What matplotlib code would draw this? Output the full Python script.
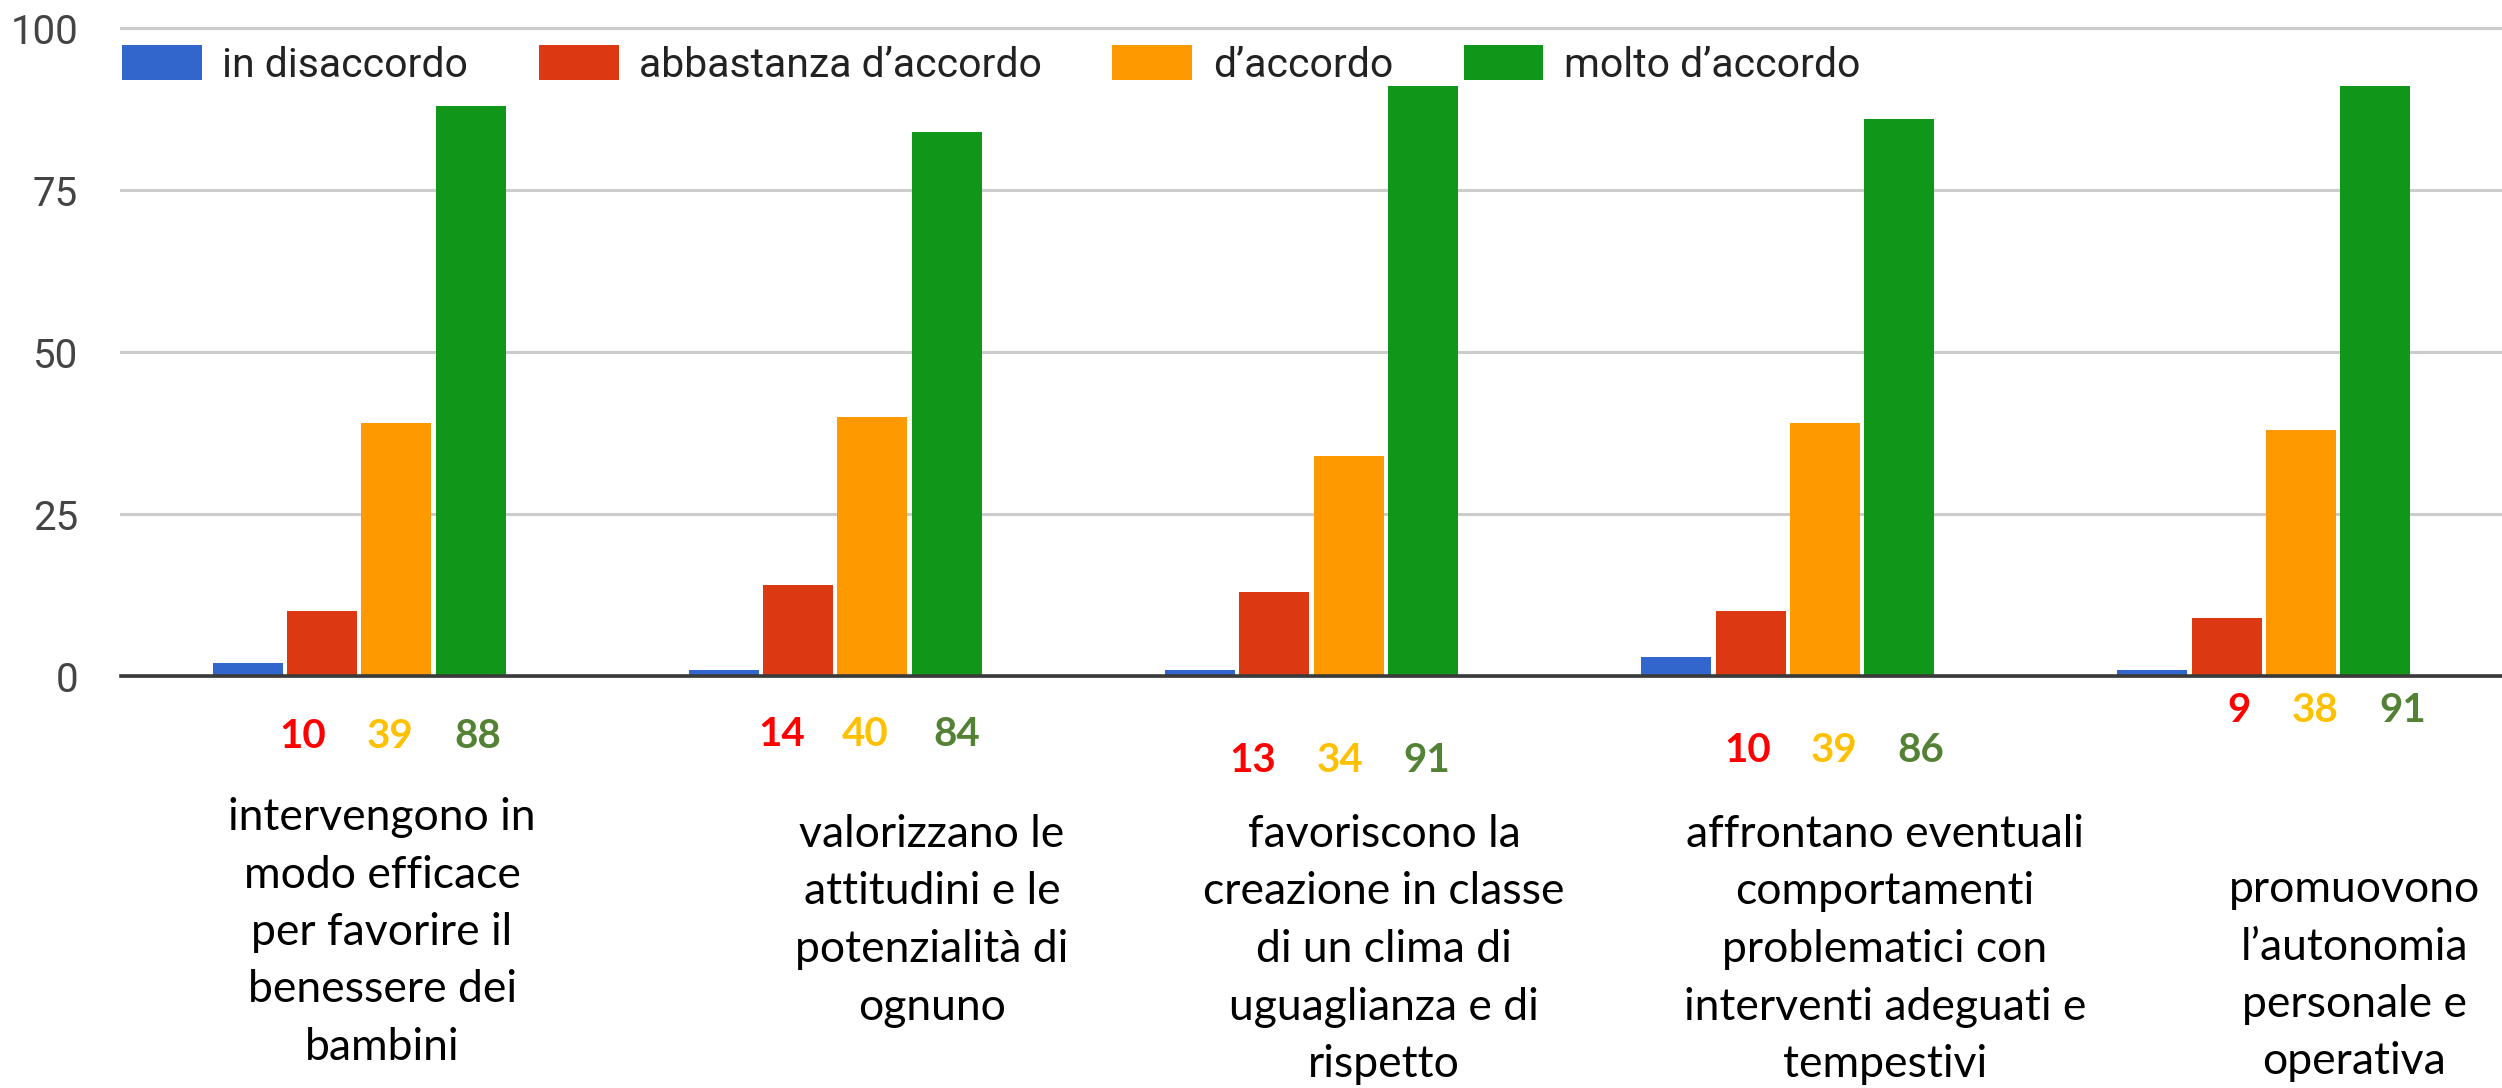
import matplotlib
matplotlib.use("Agg")
import matplotlib.pyplot as plt
import matplotlib.transforms as mtransforms
from matplotlib.patches import Patch

# ---------------- data ----------------
categories = [
    ["intervengono in", "modo efficace", "per favorire il", "benessere dei", "bambini"],
    ["valorizzano le", "attitudini e le", "potenzialità di", "ognuno"],
    ["favoriscono la", "creazione in classe", "di un clima di", "uguaglianza e di", "rispetto"],
    ["affrontano eventuali", "comportamenti", "problematici con", "interventi adeguati e", "tempestivi"],
    ["promuovono", "l’autonomia", "personale e", "operativa"],
]
series_names = ["in disaccordo", "abbastanza d’accordo", "d’accordo", "molto d’accordo"]
in_disaccordo = [2, 1, 1, 3, 1]
abbastanza_accordo = [10, 14, 13, 10, 9]
d_accordo = [39, 40, 34, 39, 38]
molto_accordo = [88, 84, 91, 86, 91]
yticks = [0, 25, 50, 75, 100]

# overlaid value labels (red, yellow, green)
label_abbastanza = ["10", "14", "13", "10", "9"]
label_accordo = ["39", "40", "34", "39", "38"]
label_molto = ["88", "84", "91", "86", "91"]

# ---------------- layout / style ----------------
W, H = 2502, 1088
DPI = 100
bar_colors = ["#3366CC", "#DC3912", "#FF9900", "#109618"]
num_colors = ["#FF0000", "#FFC000", "#548235"]

# value-label layout (pixel offsets from group centre, y pixel)
num_mid_off = [31, 30, 29, 46, 51]
num_left_off = [-87, -84, -88, -86, -76]
num_right_off = [88, 91, 86, 87, 88]
num_y_px = [736, 734, 761, 750, 710]
# category-text layout (pixel centre x, first baseline y)
cat_x_px = [382, 932, 1384, 1885, 2354]
cat_y_px = [830, 847, 847, 847, 902]
line_step_px = 57.5

fig = plt.figure(figsize=(W / DPI, H / DPI), dpi=DPI)
ax_left, ax_right = 121 / W, 1.0
ax_bottom, ax_top = 1 - 676 / H, 1 - 28 / H
ax = fig.add_axes([ax_left, ax_bottom, ax_right - ax_left, ax_top - ax_bottom])

n = len(categories)
x = list(range(n))
series = [in_disaccordo, abbastanza_accordo, d_accordo, molto_accordo]
pitch = 0.156
width = 0.147
for i, (vals, col, name) in enumerate(zip(series, bar_colors, series_names)):
    xs = [xi + (i - 1.5) * pitch for xi in x]
    ax.bar(xs, vals, width=width, color=col, label=name, zorder=3, linewidth=0)

ax.set_xlim(-0.5, n - 0.5)
ax.set_ylim(0, 100)
ax.set_yticks(yticks)
ax.set_yticklabels([str(t) for t in yticks], fontsize=29, color="#444444",
                   family=["Roboto", "DejaVu Sans"])
ax.tick_params(axis="y", length=0, pad=31)
ax.set_xticks([])
for s in ax.spines.values():
    s.set_visible(False)
ax.yaxis.grid(True, color="#CCCCCC", linewidth=2.2, zorder=0)
for gl in ax.get_ygridlines():
    gl.set_clip_on(False)
ax.axhline(0, color="#3A3A3A", linewidth=2.6, zorder=4, clip_on=False)

# legend
handles = [Patch(facecolor=c, edgecolor="none") for c in bar_colors]
leg = fig.legend(handles, series_names, loc="center left",
                 bbox_to_anchor=(122 / W, 1 - 65 / H), ncol=4, frameon=False,
                 prop={"family": ["Roboto", "DejaVu Sans"], "size": 29.5},
                 handlelength=1.95, handleheight=0.93, handletextpad=0.5,
                 columnspacing=1.72, borderpad=0, borderaxespad=0)
for t in leg.get_texts():
    t.set_color("#222222")

# pixel helpers
px_per_cat = (W * (ax_right - ax_left)) / n
trans_fig_y = mtransforms.blended_transform_factory(ax.transData, fig.transFigure)

# value labels
for g in range(n):
    mid = x[g] + num_mid_off[g] / px_per_cat
    yy = 1 - num_y_px[g] / H
    for txt, off, col in [(label_abbastanza[g], num_left_off[g], num_colors[0]),
                          (label_accordo[g], 0, num_colors[1]),
                          (label_molto[g], num_right_off[g], num_colors[2])]:
        ax.text(mid + off / px_per_cat, yy, txt, transform=trans_fig_y,
                ha="center", va="center", fontsize=29, fontweight="bold",
                color=col, family=["Lato", "DejaVu Sans"], clip_on=False)

# category texts
for g in range(n):
    cx = (cat_x_px[g] - ax_left * W) / px_per_cat - 0.5
    for k, line in enumerate(categories[g]):
        yy = 1 - (cat_y_px[g] + k * line_step_px) / H
        ax.text(cx, yy, line, transform=trans_fig_y, ha="center", va="baseline",
                fontsize=32, color="black", family=["Lato", "DejaVu Sans"],
                clip_on=False)

fig.savefig("out.png", dpi=DPI)
